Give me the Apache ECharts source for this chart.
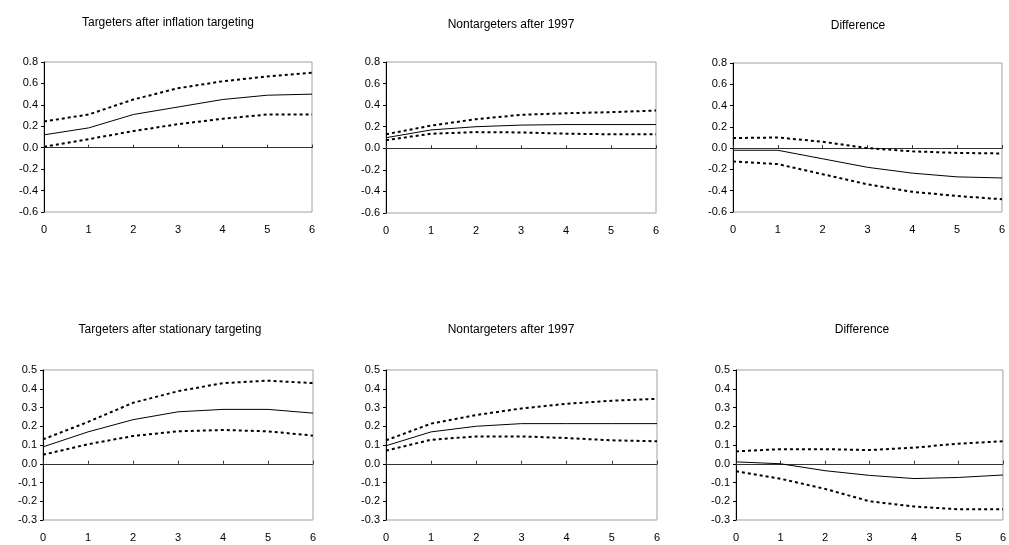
<!DOCTYPE html>
<html>
<head>
<meta charset="utf-8">
<script src="https://cdn.jsdelivr.net/npm/echarts@6/dist/echarts.min.js"></script>
<style>
html,body{margin:0;padding:0;background:#fff;}
#chart{width:1009px;height:545px;}
</style>
</head>
<body>
<div id="chart"></div>
<script>
// ---- data ----
const horizon = [0, 1, 2, 3, 4, 5, 6];
const titles = [
  'Targeters after inflation targeting',
  'Nontargeters after 1997',
  'Difference',
  'Targeters after stationary targeting',
  'Nontargeters after 1997',
  'Difference'
];
// Row 1
const p1Mid = [0.12, 0.185, 0.31, 0.38, 0.45, 0.49, 0.50];
const p1Up  = [0.245, 0.31, 0.45, 0.555, 0.62, 0.665, 0.70];
const p1Lo  = [0.01, 0.08, 0.155, 0.22, 0.27, 0.31, 0.31];
const p2Mid = [0.098, 0.17, 0.20, 0.215, 0.22, 0.22, 0.22];
const p2Up  = [0.13, 0.21, 0.27, 0.31, 0.325, 0.335, 0.35];
const p2Lo  = [0.075, 0.135, 0.15, 0.147, 0.135, 0.13, 0.13];
const p3Mid = [-0.02, -0.02, -0.10, -0.18, -0.235, -0.27, -0.28];
const p3Up  = [0.095, 0.10, 0.06, 0.0, -0.03, -0.045, -0.05];
const p3Lo  = [-0.125, -0.15, -0.245, -0.34, -0.41, -0.45, -0.48];
// Row 2
const p4Mid = [0.09, 0.17, 0.235, 0.277, 0.29, 0.29, 0.27];
const p4Up  = [0.13, 0.223, 0.325, 0.387, 0.43, 0.443, 0.43];
const p4Lo  = [0.048, 0.104, 0.148, 0.173, 0.18, 0.173, 0.15];
const p5Mid = [0.096, 0.17, 0.20, 0.214, 0.214, 0.214, 0.214];
const p5Up  = [0.125, 0.214, 0.26, 0.295, 0.32, 0.336, 0.346];
const p5Lo  = [0.07, 0.128, 0.146, 0.146, 0.137, 0.125, 0.12];
const p6Mid = [0.01, 0.0, -0.037, -0.062, -0.079, -0.073, -0.06];
const p6Up  = [0.066, 0.078, 0.078, 0.073, 0.086, 0.107, 0.12];
const p6Lo  = [-0.04, -0.08, -0.134, -0.20, -0.228, -0.243, -0.243];
// axis ranges
const row1Y = {min: -0.6, max: 0.8, interval: 0.2};
const row2Y = {min: -0.3, max: 0.5, interval: 0.1};

const panels = [
  {mid: p1Mid, up: p1Up, lo: p1Lo, y: row1Y},
  {mid: p2Mid, up: p2Up, lo: p2Lo, y: row1Y},
  {mid: p3Mid, up: p3Up, lo: p3Lo, y: row1Y},
  {mid: p4Mid, up: p4Up, lo: p4Lo, y: row2Y},
  {mid: p5Mid, up: p5Up, lo: p5Lo, y: row2Y},
  {mid: p6Mid, up: p6Up, lo: p6Lo, y: row2Y}
];

// ---- layout ----
const boxes = [
  {l: 44, r: 312, t: 62, b: 212},
  {l: 386, r: 656, t: 62, b: 213},
  {l: 733, r: 1002, t: 63, b: 212},
  {l: 43, r: 313, t: 370, b: 520},
  {l: 386, r: 657, t: 370, b: 520},
  {l: 736, r: 1006, t: 370, b: 520}
];
const titlePos = [
  {x: 163, y: 19}, {x: 506, y: 21}, {x: 853, y: 22},
  {x: 165, y: 326}, {x: 506, y: 326}, {x: 857, y: 326}
];
const FONT = '"Liberation Sans", Arial, sans-serif';

const pairs = arr => horizon.map((h, i) => [h, arr[i]]);

const option = {
  animation: false,
  backgroundColor: '#ffffff',
  title: [], grid: [], xAxis: [], yAxis: [], series: []
};

panels.forEach((p, i) => {
  const b = boxes[i];
  option.title.push({
    text: titles[i], left: titlePos[i].x, top: titlePos[i].y - 7, textAlign: 'center',
    textStyle: {fontFamily: FONT, fontSize: 12, fontWeight: 'normal', color: '#000'}
  });
  option.grid.push({
    left: b.l, top: b.t, width: b.r - b.l, height: b.b - b.t,
    show: true, borderColor: '#a0a0a0', borderWidth: 1, backgroundColor: 'transparent'
  });
  // labels axis (bottom)
  option.xAxis.push({
    type: 'value', gridIndex: i, min: 0, max: 6, interval: 1, position: 'bottom',
    axisLine: {show: false, onZero: false}, axisTick: {show: false}, splitLine: {show: false},
    axisLabel: {margin: 12, fontFamily: FONT, fontSize: 11, color: '#000'}
  });
  // zero axis line with ticks
  option.xAxis.push({
    type: 'value', gridIndex: i, min: 0, max: 6, interval: 1, position: 'bottom',
    axisLine: {show: true, onZero: true, lineStyle: {color: '#333', width: 1}},
    axisTick: {show: true, inside: true, length: 3, lineStyle: {color: '#333'}},
    axisLabel: {show: false}, splitLine: {show: false}
  });
  option.yAxis.push({
    type: 'value', gridIndex: i, min: p.y.min, max: p.y.max, interval: p.y.interval,
    axisLine: {show: true, onZero: false, lineStyle: {color: '#000', width: 1}},
    axisTick: {show: true, length: 3, lineStyle: {color: '#000'}},
    splitLine: {show: false},
    axisLabel: {margin: 6, fontFamily: FONT, fontSize: 11, color: '#000',
      formatter: v => v.toFixed(1)}
  });
  const xi = i * 2;
  option.series.push(
    {type: 'line', xAxisIndex: xi, yAxisIndex: i, data: pairs(p.up), symbol: 'none',
     lineStyle: {color: '#000', width: 2, type: [3, 3]}, z: 3},
    {type: 'line', xAxisIndex: xi, yAxisIndex: i, data: pairs(p.lo), symbol: 'none',
     lineStyle: {color: '#000', width: 2, type: [3, 3]}, z: 3},
    {type: 'line', xAxisIndex: xi, yAxisIndex: i, data: pairs(p.mid), symbol: 'none',
     lineStyle: {color: '#000', width: 1}, z: 4}
  );
});

const chart = echarts.init(document.getElementById('chart'), null, {renderer: 'canvas'});
chart.setOption(option);
</script>
</body>
</html>
